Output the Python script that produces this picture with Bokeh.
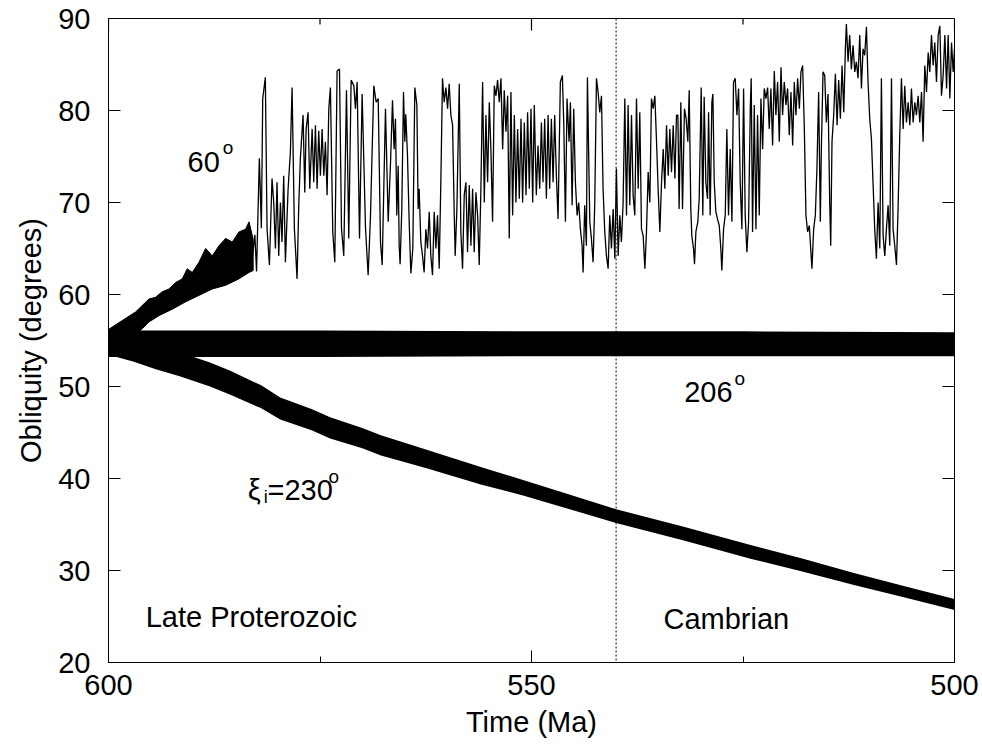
from bokeh.plotting import figure
from bokeh.models import Range1d, FixedTicker, Label, Span
from bokeh.embed import file_html
from bokeh.resources import INLINE

FONT = "Liberation Sans"

# xi_i = 206 deg : stays trapped near 54.7 deg (envelope of the fast wobble)
band206_time = [600, 575, 550, 525, 500]
band206_low = [53.2, 53.2, 53.3, 53.3, 53.3]
band206_high = [56.1, 56.1, 56.0, 56.0, 55.9]

# xi_i = 230 deg : slow drift towards low obliquity (centre and half width)
band230_time = [600, 597, 594.5, 591.5, 588, 585.6, 582, 579.7, 576, 573.8, 570,
                567.8, 562.3, 556, 551, 546, 540, 532, 524, 518, 512, 506, 500]
band230_mid = [54.8, 54.0, 53.2, 52.4, 51.3, 50.4, 48.9, 47.6, 46.4, 45.5, 44.4,
               43.6, 42.1, 40.3, 39.0, 37.6, 35.9, 34.0, 32.0, 30.6, 29.1, 27.7, 26.3]
band230_half = [1.35, 1.3, 1.3, 1.3, 1.3, 1.3, 1.25, 1.2, 1.15, 1.15, 1.1,
                1.1, 1.0, 0.95, 0.85, 0.8, 0.75, 0.75, 0.75, 0.7, 0.65, 0.62, 0.6]

# xi_i = 60 deg : regular rise before the chaotic zone (upper and lower edges)
band60_top_time = [600, 597.99, 596.8, 596.02, 595.23, 594.44, 593.65, 592.86,
                   592.07, 591.28, 590.69, 590.1, 589.31, 588.52, 587.73, 586.94,
                   586.15, 585.37, 584.58, 583.79, 583.39, 582.9]
band60_top = [56.2, 57.4, 58.1, 58.8, 59.5, 59.7, 60.3, 60.6, 61.3, 61.7, 62.8,
              62.4, 63.5, 65.0, 64.2, 65.3, 66.1, 65.7, 66.8, 67.1, 67.9, 66.0]
band60_bottom_time = [600, 597.99, 595.23, 594.04, 592.47, 590.89, 589.31, 587.73,
                      586.15, 584.58, 583.39, 582.9]
band60_bottom = [53.5, 54.5, 57.0, 57.7, 58.4, 59.2, 59.9, 60.6, 61.0, 61.7, 62.4,
                 62.6]

# xi_i = 60 deg : chaotic track (time in Ma, obliquity in degrees)
track60 = [
    (583.0, 64.0), (582.7, 66.5), (582.5, 62.5), (582.17, 74.8), (581.93, 67.2),
    (581.77, 81.3), (581.46, 83.6), (581.26, 67.2), (580.98, 63.2), (580.67, 72.6),
    (580.47, 70.0), (580.27, 65.0), (580.08, 72.2), (579.88, 64.2), (579.68, 70.0),
    (579.49, 65.7), (579.29, 72.9), (579.09, 63.5), (578.77, 71.5), (578.50, 75.5),
    (578.30, 82.5), (578.03, 67.2), (577.71, 61.7), (577.51, 69.7), (577.32, 74.8),
    (577.00, 79.5), (576.80, 71.1), (576.64, 78.0), (576.41, 79.8), (576.21, 71.5),
    (575.93, 78.0), (575.74, 72.2), (575.54, 78.4), (575.34, 71.5), (575.15, 77.8),
    (574.95, 72.9), (574.75, 78.0), (574.55, 72.9), (574.36, 76.6), (574.16, 70.8),
    (573.96, 80.2), (573.77, 82.5), (573.49, 66.8), (573.25, 63.5), (572.98, 84.3),
    (572.70, 84.5), (572.46, 67.2), (572.19, 64.2), (571.87, 82.2), (571.60, 66.1),
    (571.32, 83.3), (571.00, 82.7), (570.81, 80.2), (570.61, 83.1), (570.33, 66.1),
    (570.02, 81.8), (569.62, 67.2), (569.31, 62.1), (569.03, 68.6), (568.64, 82.7),
    (568.36, 80.9), (568.12, 81.3), (567.85, 65.7), (567.65, 63.2), (567.26, 80.2),
    (566.94, 67.9), (566.66, 74.4), (566.43, 81.1), (566.24, 75.8), (566.08, 79.1),
    (565.92, 68.6), (565.76, 74.0), (565.64, 65.3), (565.53, 63.3), (565.33, 69.3),
    (565.13, 82.0), (564.97, 76.6), (564.86, 79.6), (564.66, 75.1), (564.46, 67.9),
    (564.26, 62.3), (564.03, 65.0), (563.79, 82.5), (563.55, 80.6), (563.40, 69.3),
    (563.28, 71.5), (563.08, 65.7), (562.88, 64.2), (562.69, 62.4), (562.49, 67.1),
    (562.29, 65.0), (562.09, 69.0), (561.90, 64.2), (561.70, 62.1), (561.50, 69.0),
    (561.30, 65.0), (561.11, 68.6), (560.91, 62.8), (560.71, 72.6), (560.52, 83.5),
    (560.32, 80.9), (560.12, 82.5), (559.92, 80.2), (559.73, 82.9), (559.53, 79.5),
    (559.33, 78.4), (559.13, 68.6), (559.02, 64.2), (558.82, 69.3), (558.54, 82.9),
    (558.35, 66.8), (558.15, 62.8), (557.95, 70.8), (557.75, 72.2), (557.56, 64.6),
    (557.36, 71.9), (557.16, 65.3), (556.96, 71.5), (556.77, 64.6), (556.57, 71.1),
    (556.37, 68.6), (556.18, 63.2), (555.98, 71.5), (555.78, 83.1), (555.58, 70.0),
    (555.39, 79.5), (555.19, 72.2), (554.99, 80.9), (554.80, 75.8), (554.60, 67.9),
    (554.40, 82.7), (554.20, 81.6), (554.01, 83.3), (553.81, 80.9), (553.61, 83.5),
    (553.41, 75.8), (553.22, 82.2), (553.02, 77.7), (552.82, 81.6), (552.63, 66.1),
    (552.43, 82.0), (552.23, 68.6), (552.03, 79.5), (551.84, 70.0), (551.64, 78.0),
    (551.44, 70.4), (551.24, 79.1), (551.05, 70.0), (550.85, 78.7), (550.65, 70.8),
    (550.46, 79.8), (550.26, 71.5), (550.06, 80.2), (549.86, 70.0), (549.67, 80.6),
    (549.43, 70.8), (549.23, 76.2), (549.03, 71.5), (548.83, 78.7), (548.64, 72.2),
    (548.44, 79.1), (548.24, 70.4), (548.04, 79.5), (547.85, 71.5), (547.65, 79.1),
    (547.45, 72.2), (547.26, 79.5), (547.06, 72.9), (546.86, 68.2), (546.59, 83.1),
    (546.35, 83.8), (546.19, 78.7), (545.99, 67.9), (545.80, 81.3), (545.56, 76.6),
    (545.40, 80.9), (545.20, 69.7), (545.01, 80.2), (544.81, 72.2), (544.61, 68.6),
    (544.42, 70.0), (544.22, 67.1), (544.02, 65.3), (543.90, 62.4), (543.71, 69.7),
    (543.51, 65.3), (543.39, 83.6), (543.11, 67.9), (542.92, 66.1), (542.72, 63.5),
    (542.52, 70.0), (542.32, 83.5), (542.13, 82.0), (541.93, 79.8), (541.73, 81.6),
    (541.54, 71.5), (541.34, 66.8), (541.14, 64.2), (540.94, 62.8), (540.75, 68.6),
    (540.55, 65.0), (540.35, 69.3), (540.15, 63.9), (539.96, 73.7), (539.76, 64.2),
    (539.56, 68.6), (539.37, 65.7), (539.17, 70.0), (538.97, 81.3), (538.77, 68.6),
    (538.58, 80.6), (538.38, 69.7), (538.18, 79.5), (537.99, 70.8), (537.79, 68.6),
    (537.59, 81.3), (537.39, 71.5), (537.20, 79.8), (537.00, 67.1), (536.80, 66.4),
    (536.60, 62.8), (536.41, 66.8), (536.21, 73.3), (536.01, 70.0), (535.82, 81.3),
    (535.62, 80.2), (535.42, 81.6), (535.22, 76.6), (535.03, 71.5), (534.83, 66.8),
    (534.63, 72.2), (534.43, 75.8), (534.24, 71.5), (534.04, 78.4), (533.84, 72.9),
    (533.65, 78.0), (533.45, 73.3), (533.25, 78.4), (533.05, 72.6), (532.86, 79.5),
    (532.70, 79.5), (532.55, 69.3), (532.35, 80.9), (532.15, 69.3), (531.92, 80.2),
    (531.72, 79.1), (531.52, 76.6), (531.36, 82.2), (531.17, 69.3), (531.05, 66.4),
    (530.85, 65.0), (530.73, 63.3), (530.57, 66.8), (530.34, 67.9), (530.18, 70.4),
    (529.94, 82.5), (529.75, 68.6), (529.59, 81.5), (529.39, 72.2), (529.19, 70.4),
    (529.07, 79.8), (528.88, 68.6), (528.68, 80.9), (528.56, 81.8), (528.40, 72.2),
    (528.21, 69.0), (528.01, 68.2), (527.81, 67.5), (527.62, 65.0), (527.50, 62.6),
    (527.30, 67.1), (527.10, 68.6), (526.91, 78.0), (526.71, 68.6), (526.51, 75.8),
    (526.31, 67.9), (526.12, 83.1), (525.92, 83.5), (525.72, 79.5), (525.52, 82.4),
    (525.33, 72.2), (525.13, 67.1), (524.93, 82.4), (524.74, 68.6), (524.54, 64.6),
    (524.34, 67.9), (524.14, 80.2), (524.03, 83.5), (523.87, 66.8), (523.67, 80.6),
    (523.47, 67.1), (523.28, 79.5), (523.08, 68.6), (522.88, 81.3), (522.68, 75.8),
    (522.49, 82.4), (522.29, 81.3), (522.09, 82.5), (521.90, 78.0), (521.70, 82.4),
    (521.50, 76.2), (521.30, 84.3), (521.11, 79.5), (520.91, 83.1), (520.71, 76.6),
    (520.51, 84.7), (520.32, 79.5), (520.12, 83.1), (519.92, 80.6), (519.73, 82.4),
    (519.53, 77.3), (519.33, 82.0), (519.13, 76.2), (518.94, 83.1), (518.74, 79.5),
    (518.54, 83.5), (518.34, 80.2), (518.15, 84.2), (517.95, 84.9), (517.75, 78.0),
    (517.56, 68.6), (517.36, 66.8), (517.16, 67.5), (517.00, 65.0), (516.85, 62.8),
    (516.65, 67.1), (516.45, 68.6), (516.26, 73.7), (516.06, 82.0), (515.86, 67.9),
    (515.74, 75.8), (515.54, 84.2), (515.34, 83.8), (515.15, 78.7), (514.95, 81.8),
    (514.75, 70.0), (514.63, 65.3), (514.48, 76.6), (514.28, 79.5), (514.08, 84.0),
    (513.88, 78.4), (513.69, 83.3), (513.49, 79.1), (513.29, 84.9), (513.09, 79.8),
    (512.90, 86.7), (512.78, 89.4), (512.58, 85.3), (512.39, 88.2), (512.19, 84.5),
    (511.99, 87.1), (511.79, 84.2), (511.60, 85.3), (511.40, 83.5), (511.20, 88.2),
    (511.00, 82.4), (510.81, 86.7), (510.61, 86.0), (510.41, 89.1), (510.22, 83.1),
    (510.02, 79.1), (509.82, 76.9), (509.62, 71.9), (509.43, 67.1), (509.23, 63.9),
    (509.03, 70.0), (508.83, 65.0), (508.64, 83.5), (508.44, 66.4), (508.24, 64.2),
    (508.05, 67.1), (507.85, 69.7), (507.65, 65.3), (507.45, 83.5), (507.26, 67.1),
    (507.06, 65.3), (506.86, 63.2), (506.66, 69.7), (506.47, 77.3), (506.27, 83.5),
    (506.07, 78.0), (505.88, 82.7), (505.68, 78.7), (505.48, 80.9), (505.28, 78.4),
    (505.09, 82.4), (504.89, 78.7), (504.69, 80.9), (504.50, 79.5), (504.30, 81.6),
    (504.10, 78.7), (503.90, 82.0), (503.71, 76.6), (503.51, 84.9), (503.31, 82.0),
    (503.11, 86.3), (502.92, 84.2), (502.72, 88.2), (502.52, 84.9), (502.33, 87.4),
    (502.13, 83.1), (501.93, 88.2), (501.73, 89.2), (501.54, 81.6), (501.34, 83.8),
    (501.14, 88.2), (500.94, 82.4), (500.75, 88.2), (500.55, 81.3), (500.35, 87.4),
    (500.16, 84.2), (500.0, 86.7),
]

# Period boundary and axis ticks
cambrian_base = 540
x_major = [600, 550, 500]
x_minor = [575, 525]
y_major = [20, 30, 40, 50, 60, 70, 80, 90]
x_start, x_end = 600, 500
y_bottom, y_top = 20, 90

FRAME_W, FRAME_H = 846, 644
MAJOR_TICK, MINOR_TICK = 12, 6  # tick lengths in pixels

time60 = [t for t, _ in track60]
obl60 = [o for _, o in track60]
band230_low = [m - h for m, h in zip(band230_mid, band230_half)]
band230_high = [m + h for m, h in zip(band230_mid, band230_half)]

p = figure(frame_width=FRAME_W, frame_height=FRAME_H,
           x_range=Range1d(x_start, x_end), y_range=Range1d(y_bottom, y_top),
           output_backend="svg", toolbar_location=None,
           min_border_left=108, min_border_right=28, min_border_top=18,
           min_border_bottom=84, background_fill_color="white",
           border_fill_color="white")
p.grid.visible = False
p.outline_line_color = "black"
p.outline_line_width = 1

p.varea(x=band206_time, y1=band206_low, y2=band206_high, fill_color="black")
p.varea(x=band230_time, y1=band230_low, y2=band230_high, fill_color="black")
p.patch(x=band60_top_time + band60_bottom_time[::-1],
        y=band60_top + band60_bottom[::-1], fill_color="black", line_color="black",
        line_width=1)
p.line(time60, obl60, line_color="black", line_width=1.3)

p.add_layout(Span(location=cambrian_base, dimension="height", line_color="black",
                  line_width=1, line_dash="2 2"))

# Bottom and left axes carry the labels
for ax in (p.xaxis[0], p.yaxis[0]):
    ax.axis_line_color = "black"
    ax.axis_line_width = 1
    ax.major_tick_in = MAJOR_TICK
    ax.major_tick_out = 0
    ax.minor_tick_in = MINOR_TICK
    ax.minor_tick_out = 0
    ax.major_tick_line_color = "black"
    ax.minor_tick_line_color = "black"
    ax.major_label_text_font = FONT
    ax.major_label_text_font_size = "29px"
    ax.major_label_text_color = "black"
    ax.axis_label_text_font = FONT
    ax.axis_label_text_font_size = "29px"
    ax.axis_label_text_font_style = "normal"
    ax.axis_label_text_color = "black"

p.xaxis[0].ticker = FixedTicker(ticks=x_major, minor_ticks=x_minor)
p.yaxis[0].ticker = FixedTicker(ticks=y_major, minor_ticks=[])
p.xaxis[0].major_label_standoff = 12
p.yaxis[0].major_label_standoff = 18
p.xaxis[0].axis_label = "Time (Ma)"
p.yaxis[0].axis_label = "Obliquity (degrees)"
p.xaxis[0].axis_label_standoff = 8
p.yaxis[0].axis_label_standoff = 8

# Mirrored inward ticks on the top and right frame edges
ma_per_px = (x_start - x_end) / FRAME_W
deg_per_px = (y_top - y_bottom) / FRAME_H
n_x, n_m, n_y = len(x_major), len(x_minor), len(y_major)
p.segment(x0=x_major, y0=[y_top] * n_x, x1=x_major,
          y1=[y_top - MAJOR_TICK * deg_per_px] * n_x, line_color="black",
          line_width=1.2)
p.segment(x0=x_minor, y0=[y_top] * n_m, x1=x_minor,
          y1=[y_top - MINOR_TICK * deg_per_px] * n_m, line_color="black",
          line_width=1.2)
p.segment(x0=[x_end] * n_y, y0=y_major, x1=[x_end + MAJOR_TICK * ma_per_px] * n_y,
          y1=y_major, line_color="black", line_width=1.2)


def note(x, y, text, size="29px"):
    p.add_layout(Label(x=x, y=y, text=text, text_font=FONT, text_font_size=size,
                       text_color="black", text_baseline="alphabetic",
                       text_align="left"))


note(590.65, 74.35, "60")
note(586.5, 76.0, "o", "19px")
note(531.95, 49.35, "206")
note(526.0, 50.9, "o", "19px")
note(583.55, 38.8, "\u03be")
note(581.65, 38.0, "i", "18px")
note(581.2, 38.8, "=230")
note(574.0, 40.2, "o", "19px")
note(595.6, 25.0, "Late Proterozoic")
note(534.4, 24.7, "Cambrian")

open("out.html", "w").write(file_html(p, INLINE))
